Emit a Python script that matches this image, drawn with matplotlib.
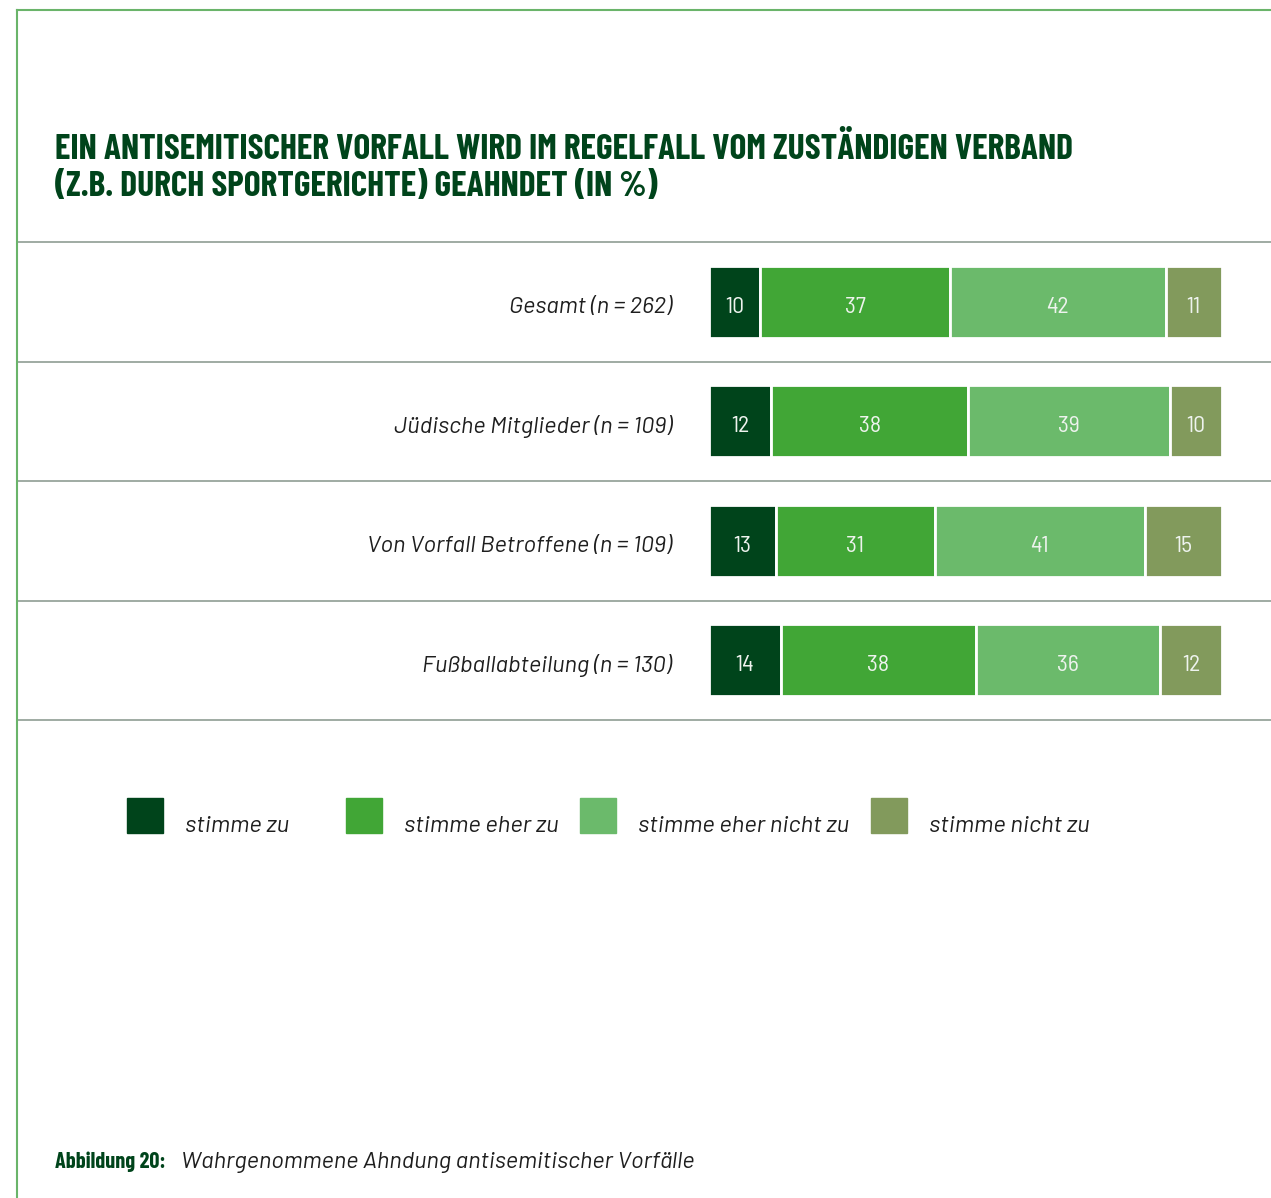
"""Stacked horizontal bar chart: Wahrgenommene Ahndung antisemitischer Vorfaelle."""
import matplotlib
matplotlib.use("Agg")
import matplotlib.pyplot as plt
import numpy as np
from matplotlib.lines import Line2D
from matplotlib.patches import Rectangle

groups = ["Gesamt (n = 262)", "Jüdische Mitglieder (n = 109)",
          "Von Vorfall Betroffene (n = 109)", "Fußballabteilung (n = 130)"]
categories = ["stimme zu", "stimme eher zu", "stimme eher nicht zu", "stimme nicht zu"]
stimme_zu = [10, 12, 13, 14]
eher_zu = [37, 38, 31, 38]
eher_nicht_zu = [42, 39, 41, 36]
nicht_zu = [11, 10, 15, 12]

colors = ["#00441b", "#41a636", "#6bba6b", "#829a5c"]
title = ("EIN ANTISEMITISCHER VORFALL WIRD IM REGELFALL VOM ZUSTÄNDIGEN VERBAND\n"
         "(Z.B. DURCH SPORTGERICHTE) GEAHNDET (IN %)")
caption_head = "Abbildung 20:"
caption = "Wahrgenommene Ahndung antisemitischer Vorfälle"

COND = ["Barlow Condensed", "DejaVu Sans"]
SEMI = ["Barlow Semi Condensed", "DejaVu Sans"]
ITAL = ["Barlow", "DejaVu Sans"]
TXT = "#1e1e1e"

W, H = 1271, 1198
fig = plt.figure(figsize=(W / 100, H / 100), dpi=100)

def fx(px):
    return px / W

def fy(py):
    return 1 - py / H

# page frame (green)
frame_c = "#6ab46a"
fig.add_artist(Line2D([fx(17), 1], [fy(10), fy(10)], color=frame_c, lw=1.5))
fig.add_artist(Line2D([fx(17), fx(17)], [fy(10), 0], color=frame_c, lw=1.5))

fig.text(fx(55), fy(196), title, ha="left", va="baseline", fontsize=25.5,
         fontweight="bold", color="#00441b", family=COND, linespacing=1.2)

# bar axes spans full width; x scaled so 0..100 sits at 709..1222 px
ax = fig.add_axes([fx(17), fy(720), fx(1271 - 17), (720 - 242) / H])
unit = (1222 - 709) / 100
ax.set_xlim(-(709 - 17) / unit, 100 + (1271 - 1222) / unit)
ax.set_ylim(len(groups), 0)

series = np.array([stimme_zu, eher_zu, eher_nicht_zu, nicht_zu], dtype=float)
shares = series / series.sum(axis=0) * 100   # rows are drawn full width
y = np.arange(len(groups)) + 0.5
left = np.zeros(len(groups))
for vals, sh, c in zip(series, shares, colors):
    ax.barh(y, sh, left=left, height=0.6, color=c, edgecolor="white", linewidth=2)
    for yi, l, v, s in zip(y, left, vals, sh):
        ax.text(l + s / 2, yi + 0.045, f"{v:.0f}", ha="center", va="center", fontsize=17,
                color="#eef3ee", family=SEMI)
    left += sh

for yi, g in zip(y, groups):
    ax.text(-7.2, yi + 0.045, g, ha="right", va="center", fontsize=17, style="italic",
            color=TXT, family=ITAL)

grid_c = "#8f9d94"
for k in range(1, len(groups)):
    ax.axhline(k, color=grid_c, lw=1.2)
for side in ["left", "right"]:
    ax.spines[side].set_visible(False)
for side in ["top", "bottom"]:
    ax.spines[side].set_color(grid_c)
    ax.spines[side].set_linewidth(1.2)
ax.set_xticks([])
ax.set_yticks([])

# legend
leg_x = [127, 346, 580, 871]
for px, c, lab in zip(leg_x, colors, categories):
    fig.add_artist(Rectangle((fx(px), fy(833)), fx(36), 35 / H, color=c,
                             transform=fig.transFigure))
    fig.text(fx(px + 58), fy(832), lab, ha="left", va="baseline", fontsize=17.3,
             style="italic", color=TXT, family=ITAL)

# caption
fig.text(fx(55), fy(1168), caption_head, ha="left", va="baseline", fontsize=16,
         fontweight="bold", color="#00441b", family=COND)
fig.text(fx(181), fy(1168), caption, ha="left", va="baseline", fontsize=17,
         style="italic", color=TXT, family=ITAL)

fig.savefig("out.png", dpi=100)
